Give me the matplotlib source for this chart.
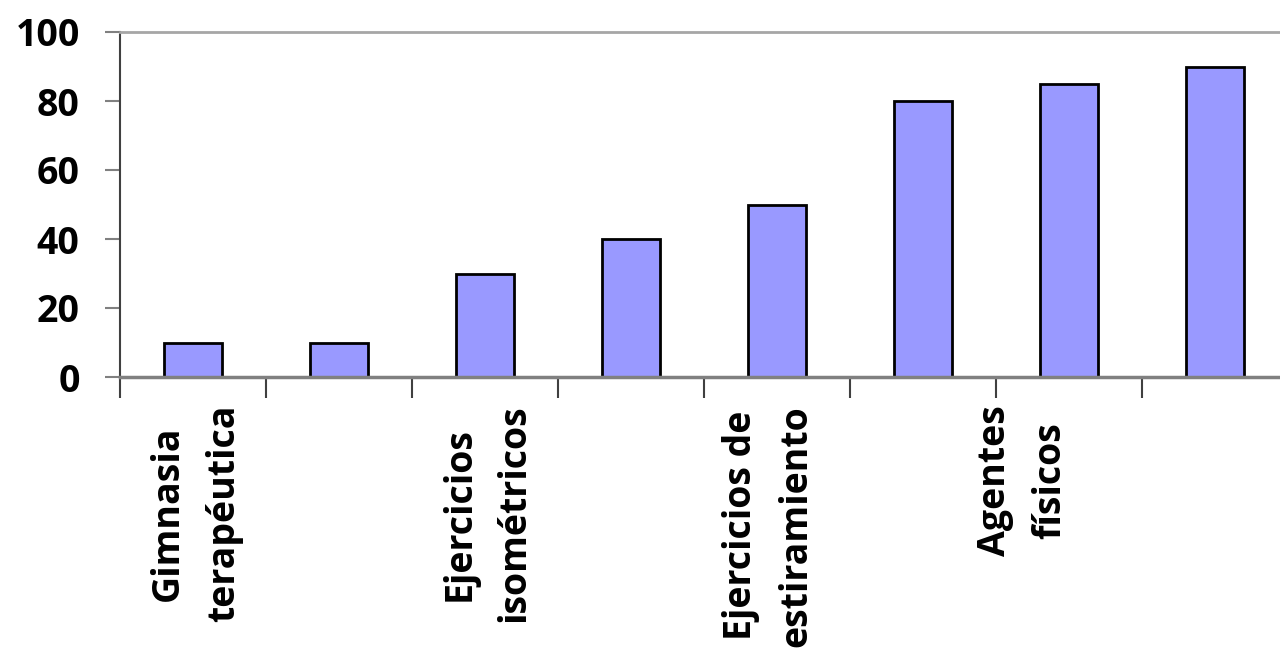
import numpy as np
import matplotlib.pyplot as plt
from matplotlib.transforms import ScaledTranslation

# Treatment categories (only every other one carries a visible label)
categories = [
    "Gimnasia\nterapéutica",
    "",
    "Ejercicios\nisométricos",
    "",
    "Ejercicios de\nestiramiento",
    "",
    "Agentes\nfísicos",
    "",
]
values = [10, 10, 30, 40, 50, 80, 85, 90]
y_ticks = [0, 20, 40, 60, 80, 100]

# horizontal nudge of each label, in pixels
label_shift = [3, 0, 2, 0, -8, 0, -46, 0]

plt.rcParams['font.family'] = ['Open Sans', 'DejaVu Sans']

fig = plt.figure(figsize=(12.8, 6.49), dpi=100)
ax = fig.add_axes([120 / 1280, (649 - 377) / 649, 1168 / 1280, 345 / 649])

x = np.arange(len(values))
ax.bar(x, values, width=0.4, color='#9999FF', edgecolor='black',
       linewidth=2, zorder=3)

ax.set_xlim(-0.5, len(values) - 0.5)
ax.set_ylim(0, 100)
ax.set_yticks(y_ticks)
ax.set_yticklabels([str(v) for v in y_ticks], fontsize=27, fontweight='bold')

# category boundaries as minor ticks, labels on the centres
ax.set_xticks(np.arange(len(values) + 1) - 0.5, minor=True)
ax.set_xticks(x)
ax.set_xticklabels(categories, rotation=90, fontsize=27, fontweight='bold',
                   va='top', ha='center', multialignment='center',
                   linespacing=1.6)
ax.tick_params(axis='x', which='major', length=0, pad=20)
ax.tick_params(axis='x', which='minor', length=15, width=1.5,
               color='#404040', direction='out')
ax.tick_params(axis='y', length=11, width=1.5, color='#808080',
               direction='out', pad=18)

for lbl, dx in zip(ax.get_xticklabels(), label_shift):
    lbl.set_transform(lbl.get_transform() +
                      ScaledTranslation(dx / 100, 0, fig.dpi_scale_trans))

ax.spines['right'].set_visible(False)
ax.spines['top'].set_color('#a6a6a6')
ax.spines['top'].set_linewidth(2)
ax.spines['left'].set_color('#404040')
ax.spines['left'].set_linewidth(1.5)
ax.spines['bottom'].set_color('#808080')
ax.spines['bottom'].set_linewidth(2.5)
ax.spines['bottom'].set_zorder(4)

fig.savefig('out.png', dpi=100)
